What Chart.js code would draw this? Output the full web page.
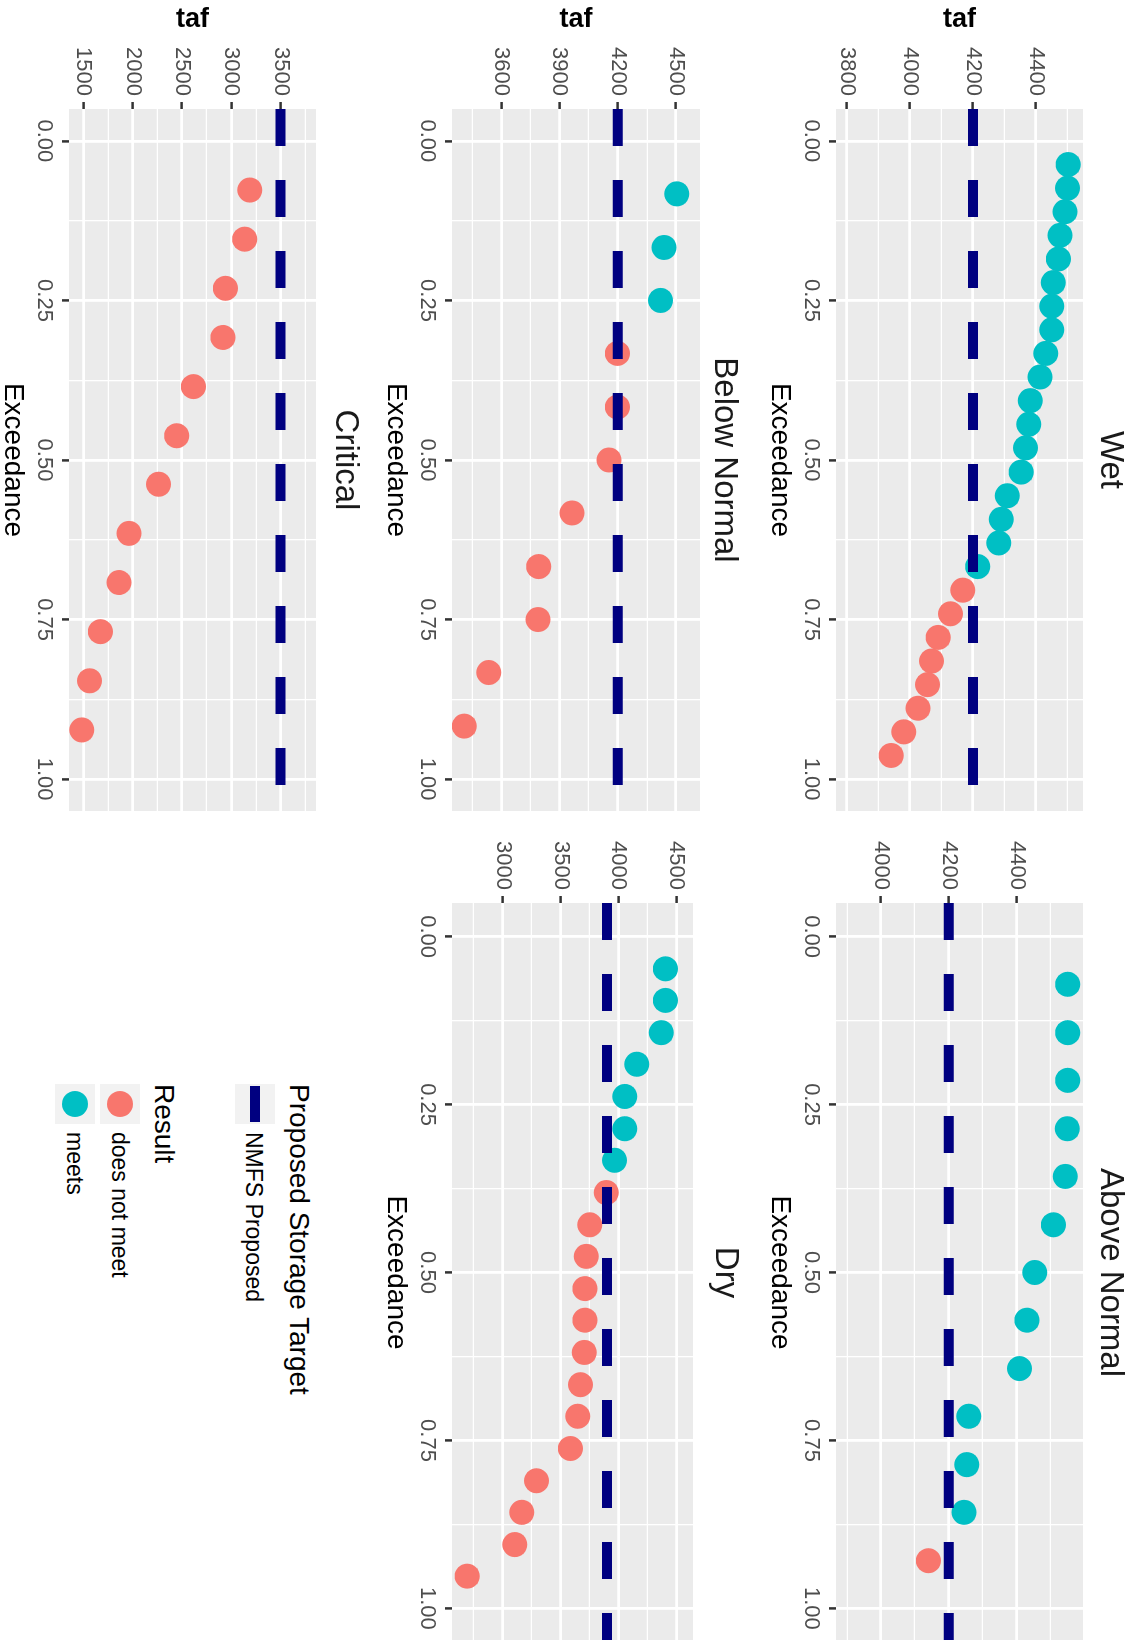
<!DOCTYPE html>
<html>
<head>
<meta charset="utf-8">
<title>Proposed storage target exceedance</title>
<script src="https://cdn.jsdelivr.net/npm/chart.js@4.4.1/dist/chart.umd.min.js"></script>
<style>
  html, body { margin: 0; padding: 0; background: #fff; width: 1133px; height: 1640px; overflow: hidden; }
  /* the plot is laid out landscape, then turned a quarter clockwise like the original */
  #stage { position: absolute; left: 0; top: 0; width: 1640px; height: 1133px;
           transform-origin: 0 0; transform: translate(1133px, 0) rotate(90deg);
           font-family: "Liberation Sans", Arial, sans-serif; }
  #stage canvas { position: absolute; }
  .lg { position: absolute; white-space: nowrap; color: #000; }
  .key { position: absolute; background: #F2F2F2; width: 40px; height: 40px; }
</style>
</head>
<body>
<div id="stage">
  <canvas id="wet"></canvas>
  <canvas id="aboveNormal"></canvas>
  <canvas id="belowNormal"></canvas>
  <canvas id="dry"></canvas>
  <canvas id="critical"></canvas>

  <div class="lg" style="left:1084px; top:818px; font-size:28px; line-height:32px;">Proposed Storage Target</div>
  <div class="key" style="left:1084px; top:858px;"><div style="position:absolute; left:2px; top:15px; width:36px; height:10px; background:#000080;"></div></div>
  <div class="lg" style="left:1132px; top:864px; font-size:23px; line-height:30px;">NMFS Proposed</div>

  <div class="lg" style="left:1084px; top:953px; font-size:28px; line-height:32px;">Result</div>
  <div class="key" style="left:1084px; top:993px;"><div style="position:absolute; left:7px; top:7px; width:26px; height:26px; border-radius:50%; background:#F8766D;"></div></div>
  <div class="lg" style="left:1132px; top:998px; font-size:23px; line-height:30px;">does not meet</div>
  <div class="key" style="left:1084px; top:1038px;"><div style="position:absolute; left:7px; top:7px; width:26px; height:26px; border-radius:50%; background:#00BFC4;"></div></div>
  <div class="lg" style="left:1132px; top:1043px; font-size:23px; line-height:30px;">meets</div>
</div>

<script>
// Exceedance axis
const exceedanceTicks = [0, 0.25, 0.5, 0.75, 1];
const exceedanceMinor = [0.125, 0.375, 0.625, 0.875];

// Wet
const wetExceedance = [0.037, 0.074, 0.111, 0.148, 0.185, 0.222, 0.259, 0.296, 0.333, 0.370, 0.407, 0.444, 0.481,
                       0.519, 0.556, 0.593, 0.630, 0.667, 0.704, 0.741, 0.778, 0.815, 0.852, 0.889, 0.926, 0.963];
const wetTaf = [4502, 4500, 4492, 4476, 4471, 4455, 4450, 4450, 4431, 4413, 4382, 4377, 4367,
                4353, 4309, 4290, 4282, 4215, 4168, 4129, 4090, 4069, 4056, 4026, 3981, 3941];
const wetMeets = [1, 1, 1, 1, 1, 1, 1, 1, 1, 1, 1, 1, 1, 1, 1, 1, 1, 1, 0, 0, 0, 0, 0, 0, 0, 0];
const wetTarget = 4200;
const wetRange = [3766, 4549];
const wetTicks = [3800, 4000, 4200, 4400];
const wetMinor = [3900, 4100, 4300, 4500];

// Above Normal
const aboveExceedance = [0.071, 0.143, 0.214, 0.286, 0.357, 0.429, 0.500, 0.571, 0.643, 0.714, 0.786, 0.857, 0.929];
const aboveTaf = [4550, 4550, 4550, 4549, 4543, 4508, 4453, 4430, 4408, 4259, 4253, 4245, 4140];
const aboveMeets = [1, 1, 1, 1, 1, 1, 1, 1, 1, 1, 1, 1, 0];
const aboveTarget = 4200;
const aboveRange = [3868, 4595];
const aboveTicks = [4000, 4200, 4400];
const aboveMinor = [3900, 4100, 4300, 4500];

// Below Normal
const belowExceedance = [0.083, 0.167, 0.250, 0.333, 0.417, 0.500, 0.583, 0.667, 0.750, 0.833, 0.917];
const belowTaf = [4504, 4438, 4420, 4198, 4198, 4155, 3965, 3793, 3790, 3536, 3410];
const belowMeets = [1, 1, 1, 0, 0, 0, 0, 0, 0, 0, 0];
const belowTarget = 4200;
const belowRange = [3347, 4623];
const belowTicks = [3600, 3900, 4200, 4500];
const belowMinor = [3450, 3750, 4050, 4350];

// Dry
const dryExceedance = [0.048, 0.095, 0.143, 0.190, 0.238, 0.286, 0.333, 0.381, 0.429, 0.476,
                       0.524, 0.571, 0.619, 0.667, 0.714, 0.762, 0.810, 0.857, 0.905, 0.952];
const dryTaf = [4405, 4405, 4370, 4158, 4055, 4055, 3966, 3895, 3752, 3722,
                3710, 3710, 3705, 3672, 3648, 3585, 3292, 3166, 3105, 2694];
const dryMeets = [1, 1, 1, 1, 1, 1, 1, 0, 0, 0, 0, 0, 0, 0, 0, 0, 0, 0, 0, 0];
const dryTarget = 3900;
const dryRange = [2563, 4643];
const dryTicks = [3000, 3500, 4000, 4500];
const dryMinor = [2750, 3250, 3750, 4250];

// Critical
const criticalExceedance = [0.077, 0.154, 0.231, 0.308, 0.385, 0.462, 0.538, 0.615, 0.692, 0.769, 0.846, 0.923];
const criticalTaf = [3188, 3135, 2940, 2915, 2615, 2445, 2262, 1963, 1860, 1672, 1562, 1483];
const criticalMeets = [0, 0, 0, 0, 0, 0, 0, 0, 0, 0, 0, 0];
const criticalTarget = 3500;
const criticalRange = [1353, 3859];
const criticalTicks = [1500, 2000, 2500, 3000, 3500];
const criticalMinor = [1750, 2250, 2750, 3250, 3750];

const NAVY = '#000080', SALMON = '#F8766D', CYAN = '#00BFC4';
const FONT = '"Liberation Sans", Arial, sans-serif';
Chart.defaults.font.family = FONT;

// gray panel background
const panelBg = {
  id: 'panelBg',
  beforeDraw(chart) {
    const a = chart.chartArea, ctx = chart.ctx;
    ctx.save();
    ctx.fillStyle = '#EBEBEB';
    ctx.fillRect(a.left, a.top, a.right - a.left, a.bottom - a.top);
    ctx.restore();
  }
};

// facet label centred over the panel
const facetLabel = {
  id: 'facetLabel',
  afterDraw(chart, args, opts) {
    const a = chart.chartArea, ctx = chart.ctx;
    ctx.save();
    ctx.font = '33px ' + FONT;
    ctx.fillStyle = '#1A1A1A';
    ctx.textAlign = 'center';
    ctx.textBaseline = 'middle';
    ctx.fillText(opts.text, (a.left + a.right) / 2, a.top - opts.offset);
    ctx.restore();
  }
};

function tickList(major, minor, min, max) {
  return major.map(v => ({ value: v, minor: false }))
    .concat(minor.map(v => ({ value: v, minor: true })))
    .filter(t => t.value >= min && t.value <= max)
    .sort((a, b) => a.value - b.value);
}

const gridOpts = {
  color: '#FFFFFF',
  lineWidth: c => (c.tick && c.tick.minor ? 1.3 : 2.8),
  drawTicks: true,
  tickLength: 7,
  tickWidth: 2.5,
  tickColor: c => (c.tick && c.tick.minor ? 'rgba(0,0,0,0)' : '#333333')
};

function makePanel(p) {
  const xAxisHeight = 75;
  const canvas = document.getElementById(p.id);
  const w = p.area.right - p.canvasLeft;
  const h = p.area.bottom + xAxisHeight - p.canvasTop;
  canvas.width = w;
  canvas.height = h;
  canvas.style.left = p.canvasLeft + 'px';
  canvas.style.top = p.canvasTop + 'px';
  canvas.style.width = w + 'px';
  canvas.style.height = h + 'px';

  const meets = [], fails = [];
  p.exceedance.forEach((e, i) => (p.meets[i] ? meets : fails).push({ x: e, y: p.taf[i] }));

  new Chart(canvas, {
    type: 'scatter',
    data: {
      datasets: [
        {
          label: 'NMFS Proposed', type: 'line',
          data: [{ x: -0.05, y: p.target }, { x: 1.05, y: p.target }],
          borderColor: NAVY, borderWidth: 10, borderDash: [37, 34], borderCapStyle: 'butt',
          pointRadius: 0, fill: false, order: 0
        },
        { label: 'does not meet', data: fails, backgroundColor: SALMON, pointRadius: 12.5, borderWidth: 0, order: 1 },
        { label: 'meets', data: meets, backgroundColor: CYAN, pointRadius: 12.5, borderWidth: 0, order: 1 }
      ]
    },
    options: {
      responsive: false, animation: false, devicePixelRatio: 1, events: [],
      layout: { autoPadding: false, padding: { top: p.area.top - p.canvasTop, left: 0, right: 0, bottom: 0 } },
      plugins: {
        legend: { display: false },
        tooltip: { enabled: false },
        facetLabel: { text: p.title, offset: p.titleOffset }
      },
      scales: {
        x: {
          type: 'linear', bounds: 'data', min: -0.05, max: 1.05,
          afterBuildTicks: s => { s.ticks = tickList(exceedanceTicks, exceedanceMinor, -0.05, 1.05); },
          afterFit: s => { s.height = xAxisHeight; s.paddingLeft = 0; s.paddingRight = 0; },
          grid: gridOpts,
          border: { display: false },
          ticks: {
            autoSkip: false, maxRotation: 0, padding: 5, color: '#4D4D4D', font: { size: 22 },
            callback: (v, i, t) => (t[i].minor ? '' : v.toFixed(2))
          },
          title: { display: true, text: 'Exceedance', color: '#000', font: { size: 28 }, padding: { top: 0, bottom: 2 } }
        },
        y: {
          type: 'linear', bounds: 'data', min: p.range[0], max: p.range[1],
          afterBuildTicks: s => { s.ticks = tickList(p.ticks, p.minor, p.range[0], p.range[1]); },
          afterFit: s => { s.width = p.area.left - p.canvasLeft; s.paddingTop = 0; s.paddingBottom = 0; },
          grid: gridOpts,
          border: { display: false },
          ticks: {
            autoSkip: false, padding: 6, color: '#4D4D4D', font: { size: 22 },
            callback: (v, i, t) => (t[i].minor ? '' : String(v))
          },
          title: { display: p.showTaf, text: 'taf', color: '#000', font: { size: 27, weight: 'bold' }, padding: { top: 3, bottom: 0 } }
        }
      }
    },
    plugins: [panelBg, facetLabel]
  });
}

makePanel({ id: 'wet', title: 'Wet', exceedance: wetExceedance, taf: wetTaf, meets: wetMeets, target: wetTarget,
  range: wetRange, ticks: wetTicks, minor: wetMinor, showTaf: true,
  canvasLeft: 0, canvasTop: 0, area: { left: 109, right: 811, top: 50, bottom: 297 }, titleOffset: 27 });

makePanel({ id: 'aboveNormal', title: 'Above Normal', exceedance: aboveExceedance, taf: aboveTaf, meets: aboveMeets, target: aboveTarget,
  range: aboveRange, ticks: aboveTicks, minor: aboveMinor, showTaf: false,
  canvasLeft: 811, canvasTop: 0, area: { left: 903, right: 1642, top: 50, bottom: 297 }, titleOffset: 27 });

makePanel({ id: 'belowNormal', title: 'Below Normal', exceedance: belowExceedance, taf: belowTaf, meets: belowMeets, target: belowTarget,
  range: belowRange, ticks: belowTicks, minor: belowMinor, showTaf: true,
  canvasLeft: 0, canvasTop: 380, area: { left: 109, right: 811, top: 433, bottom: 681 }, titleOffset: 24 });

makePanel({ id: 'dry', title: 'Dry', exceedance: dryExceedance, taf: dryTaf, meets: dryMeets, target: dryTarget,
  range: dryRange, ticks: dryTicks, minor: dryMinor, showTaf: false,
  canvasLeft: 811, canvasTop: 380, area: { left: 903, right: 1642, top: 440, bottom: 681 }, titleOffset: 32 });

makePanel({ id: 'critical', title: 'Critical', exceedance: criticalExceedance, taf: criticalTaf, meets: criticalMeets, target: criticalTarget,
  range: criticalRange, ticks: criticalTicks, minor: criticalMinor, showTaf: true,
  canvasLeft: 0, canvasTop: 760, area: { left: 109, right: 811, top: 817, bottom: 1064 }, titleOffset: 29 });
</script>
</body>
</html>
